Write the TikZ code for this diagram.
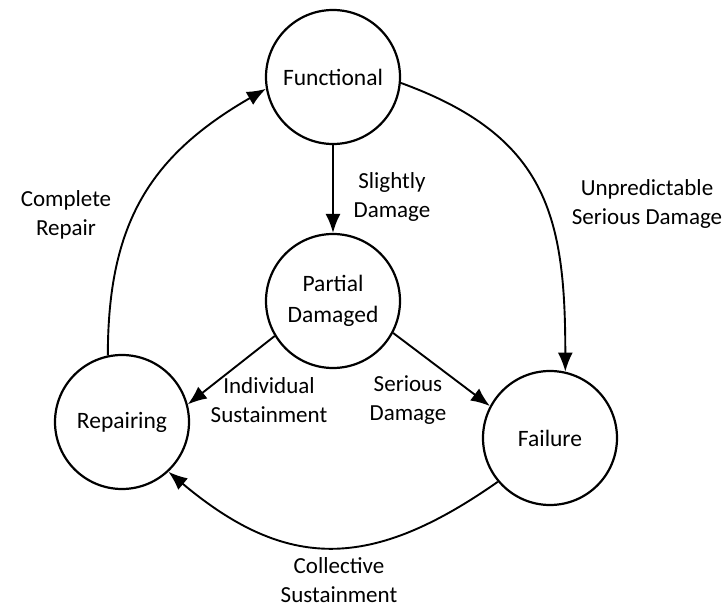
\documentclass[tikz,border=0pt]{standalone}
\usepackage{fontspec}
\setmainfont{Carlito}
\usetikzlibrary{arrows.meta,positioning}
\newcommand{\statesize}{134pt}
\tikzset{
    statesty/.style={draw,circle,line width=2.2pt,minimum size=\statesize,inner sep=0pt,align=center,font=\fontsize{23.5}{31}\selectfont},
    lblsty/.style={align=center,font=\fontsize{23}{29}\selectfont},
    arrsty/.style={->,line width=1.9pt},
}

\begin{document}
\begin{tikzpicture}[>={Latex[length=19pt,width=15pt]},x=1pt,y=1pt]
\useasboundingbox (0,0) rectangle (724,-609);
% states
\node (func) [statesty] at (333,-77) {Functional};
\node (part) [statesty] at (333,-301) {Partial\\Damaged};
\node (rep)  [statesty] at (122,-422) {Repairing};
\node (fail) [statesty] at (550,-438) {Failure};

% transitions
\draw[arrsty] (func.south) -- (part.north);
\draw[arrsty] (func.-5) to[out=-20,in=90,looseness=1.2] (fail.77);
\draw[arrsty] (rep.102) to[out=90,in=210,looseness=1.1] (func.190);
\draw[arrsty] (part.211) -- (rep.15);
\draw[arrsty] (part.-28) -- (fail.152);
\draw[arrsty] (fail.220) to[out=215,in=-40,looseness=1.2] (rep.-47);

% labels
\node (slight)  [lblsty] at (392,-197) {Slightly\\Damage};
\node (unpred)  [lblsty] at (647,-204) {Unpredictable\\Serious Damage};
\node (compl)   [lblsty] at (66,-215)  {Complete\\Repair};
\node (indiv)   [lblsty] at (269,-400) {Individual\\Sustainment};
\node (serious) [lblsty] at (408,-400) {Serious\\Damage};
\node (collect) [lblsty] at (339,-580) {Collective\\Sustainment};
\end{tikzpicture}
\end{document}
